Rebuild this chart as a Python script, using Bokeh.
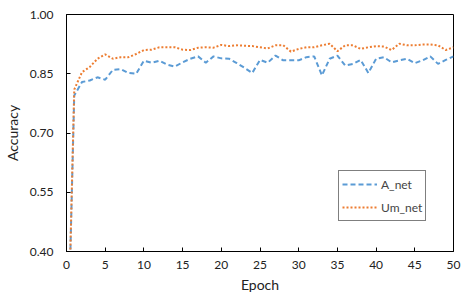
from bokeh.plotting import figure
from bokeh.models import Range1d, FixedTicker, Legend, LegendItem, NumeralTickFormatter
from bokeh.embed import file_html
from bokeh.resources import INLINE

epochs = list(range(0, 51))
a_net = [0.00, 0.795, 0.829, 0.833, 0.841, 0.835, 0.860, 0.862, 0.852, 0.850,
         0.883, 0.878, 0.883, 0.873, 0.868, 0.879, 0.888, 0.894, 0.878, 0.894,
         0.889, 0.888, 0.877, 0.865, 0.852, 0.885, 0.878, 0.896, 0.884, 0.884,
         0.884, 0.892, 0.894, 0.846, 0.888, 0.896, 0.871, 0.875, 0.885, 0.852,
         0.888, 0.892, 0.879, 0.884, 0.888, 0.877, 0.884, 0.894, 0.875, 0.885,
         0.894]
um_net = [0.00, 0.810, 0.854, 0.867, 0.888, 0.899, 0.888, 0.892, 0.892, 0.900,
          0.910, 0.911, 0.917, 0.917, 0.917, 0.911, 0.910, 0.916, 0.917, 0.916,
          0.923, 0.920, 0.922, 0.921, 0.920, 0.917, 0.914, 0.922, 0.922, 0.906,
          0.913, 0.917, 0.917, 0.922, 0.926, 0.907, 0.922, 0.922, 0.913, 0.917,
          0.920, 0.919, 0.910, 0.926, 0.922, 0.922, 0.924, 0.924, 0.922, 0.910,
          0.917]
x_ticks = [0, 5, 10, 15, 20, 25, 30, 35, 40, 45, 50]
y_ticks = [0.40, 0.55, 0.70, 0.85, 1.00]

FONT = "Lato"

p = figure(frame_width=387, frame_height=237, output_backend="svg", toolbar_location=None,
           x_range=Range1d(0, 50), y_range=Range1d(0.4, 1.0),
           min_border_left=65, min_border_right=16, min_border_top=14, min_border_bottom=44)
p.background_fill_color = "white"
p.border_fill_color = "white"
p.outline_line_color = "black"
p.outline_line_width = 1
p.xgrid.visible = False
p.ygrid.visible = False

r1 = p.line(epochs, a_net, line_color="#5B9BD5", line_width=2, line_dash="5 3")
r2 = p.line(epochs, um_net, line_color="#ED7D31", line_width=2, line_dash="2 2")

for ax in (p.xaxis[0], p.yaxis[0]):
    ax.axis_line_color = "black"
    ax.axis_line_width = 1
    ax.major_tick_line_color = "black"
    ax.major_tick_in = 4
    ax.major_tick_out = 0
    ax.minor_tick_line_color = None
    ax.major_label_text_font = FONT
    ax.major_label_text_font_size = "12px"
    ax.major_label_text_color = "#222222"
    ax.axis_label_text_font = FONT
    ax.axis_label_text_font_size = "14px"
    ax.axis_label_text_font_style = "normal"
    ax.axis_label_text_color = "#222222"

p.xaxis.ticker = FixedTicker(ticks=x_ticks)
p.yaxis.ticker = FixedTicker(ticks=y_ticks)
p.yaxis.formatter = NumeralTickFormatter(format="0.00")
p.xaxis.axis_label = "Epoch"
p.yaxis.axis_label = "Accuracy"
p.xaxis.major_label_standoff = 9
p.yaxis.major_label_standoff = 13
p.xaxis.axis_label_standoff = 4
p.yaxis.axis_label_standoff = 6

legend = Legend(items=[LegendItem(label="A_net", renderers=[r1]),
                       LegendItem(label="Um_net", renderers=[r2])],
                location=(272, 30))
legend.border_line_color = "black"
legend.border_line_width = 1
legend.background_fill_color = "white"
legend.background_fill_alpha = 1
legend.label_text_font = FONT
legend.label_text_font_size = "12px"
legend.glyph_width = 35
legend.glyph_height = 20
legend.label_height = 20
legend.spacing = 3
legend.padding = 3
legend.margin = 0
legend.label_standoff = 4
p.add_layout(legend, "center")

open("out.html", "w").write(file_html(p, INLINE))
